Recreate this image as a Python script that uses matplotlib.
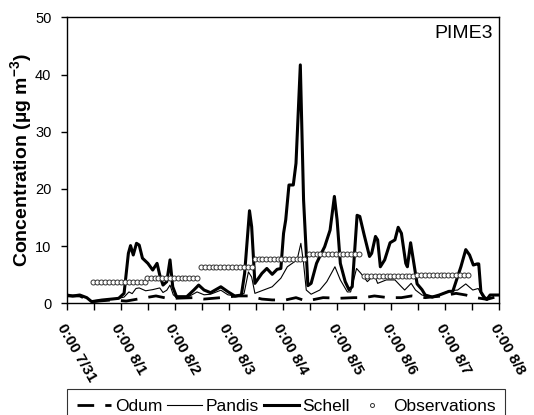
import numpy as np
import matplotlib
matplotlib.use("Agg")
import matplotlib.pyplot as plt
from matplotlib.transforms import ScaledTranslation

plt.rcParams['font.family'] = ['Liberation Sans', 'DejaVu Sans']
plt.rcParams['mathtext.fontset'] = 'custom'
plt.rcParams['mathtext.bf'] = 'Liberation Sans:bold'
plt.rcParams['mathtext.rm'] = 'Liberation Sans'

# time in days since 0:00 7/31
schell_t = [0.00, 0.11, 0.24, 0.37, 0.46, 0.65, 0.84, 0.96, 1.06, 1.14, 1.18, 1.23, 1.29, 1.34,
            1.40, 1.50, 1.59, 1.67, 1.72, 1.78, 1.85, 1.91, 1.96, 2.03, 2.22, 2.35, 2.44, 2.54,
            2.66, 2.85, 2.98, 3.11, 3.23, 3.29, 3.38, 3.42, 3.48, 3.61, 3.70, 3.80, 3.89, 3.96,
            4.01, 4.05, 4.11, 4.19, 4.24, 4.32, 4.38, 4.46, 4.52, 4.62, 4.68, 4.77, 4.87, 4.95,
            5.00, 5.06, 5.15, 5.22, 5.28, 5.37, 5.42, 5.50, 5.60, 5.64, 5.71, 5.75, 5.80, 5.88,
            5.98, 6.07, 6.13, 6.19, 6.27, 6.30, 6.36, 6.41, 6.48, 6.57, 6.63, 6.76, 6.89, 7.07,
            7.14, 7.29, 7.38, 7.45, 7.52, 7.59, 7.62, 7.66, 7.72, 7.77, 7.83, 8.00]
schell_v = [1.46, 1.28, 1.46, 1.0, 0.3, 0.58, 0.76, 0.88, 1.75, 8.75, 10.1, 8.46, 10.5, 10.2,
            7.9, 7.0, 5.83, 7.0, 4.96, 3.2, 3.8, 7.6, 2.9, 1.17, 1.17, 2.33, 3.2, 2.33,
            1.87, 2.9, 2.04, 1.28, 1.46, 5.25, 16.2, 13.4, 3.5, 5.25, 6.1, 5.08, 5.95, 6.1,
            12.25, 14.6, 20.7, 20.7, 24.5, 41.7, 18.1, 3.1, 3.5, 7.0, 8.2, 9.9, 12.8, 18.7,
            14.6, 7.0, 3.8, 2.4, 2.9, 15.4, 15.2, 12.0, 8.2, 8.75, 11.7, 11.1, 6.4, 7.6,
            10.6, 11.1, 13.3, 12.25, 7.0, 6.4, 10.6, 7.6, 3.4, 2.4, 1.46, 1.1, 1.46, 2.1,
            2.1, 6.4, 9.4, 8.46, 6.7, 6.9, 6.9, 2.0, 1.1, 0.7, 1.46, 1.46]

pandis_t = [0.00, 0.11, 0.24, 0.37, 0.46, 0.65, 0.84, 0.96, 1.06, 1.15, 1.21, 1.28, 1.34, 1.46,
            1.59, 1.72, 1.78, 1.85, 1.91, 1.97, 2.03, 2.22, 2.41, 2.54, 2.66, 2.85, 2.98, 3.17,
            3.28, 3.36, 3.42, 3.48, 3.64, 3.80, 3.96, 4.08, 4.17, 4.26, 4.33, 4.38, 4.43, 4.52,
            4.68, 4.81, 4.96, 5.06, 5.19, 5.25, 5.36, 5.44, 5.56, 5.69, 5.75, 5.91, 6.07, 6.19,
            6.25, 6.37, 6.45, 6.57, 6.76, 7.07, 7.23, 7.38, 7.51, 7.61, 7.70, 7.77, 7.83, 8.00]
pandis_v = [1.46, 1.28, 1.46, 1.0, 0.3, 0.58, 0.76, 0.88, 1.1, 2.0, 1.7, 2.6, 2.7, 2.2,
            2.4, 2.7, 1.9, 2.3, 3.2, 1.5, 1.0, 1.0, 2.0, 1.5, 1.6, 2.3, 1.5, 1.2,
            1.75, 5.5, 4.6, 1.75, 2.33, 2.9, 4.4, 6.4, 7.0, 7.6, 10.5, 7.0, 2.33, 1.6,
            2.33, 3.8, 6.4, 4.1, 2.0, 2.0, 6.1, 5.25, 3.8, 5.0, 3.5, 4.1, 4.1, 2.9,
            2.33, 3.5, 2.33, 1.46, 1.0, 2.2, 2.33, 3.4, 2.33, 2.6, 1.0, 0.7, 1.46, 1.46]

odum_t = [0.00, 0.24, 0.46, 0.84, 1.10, 1.40, 1.65, 1.90, 2.03, 2.35, 2.54, 2.85, 3.17, 3.36,
          3.61, 3.80, 4.05, 4.24, 4.43, 4.74, 5.06, 5.31, 5.50, 5.69, 5.94, 6.19, 6.38, 6.63,
          6.95, 7.20, 7.38, 7.57, 7.77, 8.00]
odum_v = [1.3, 1.3, 0.3, 0.6, 0.4, 0.9, 1.3, 0.8, 0.9, 1.0, 0.75, 1.0, 1.3, 1.3,
          0.75, 0.6, 0.6, 1.0, 0.4, 1.0, 0.9, 1.0, 1.0, 1.3, 1.0, 1.0, 1.3, 1.0,
          1.3, 1.75, 1.46, 1.0, 0.7, 1.3]

# observations: constant values over each sampling period
obs_start = [0.49, 1.48, 2.48, 3.48, 4.48, 5.49, 6.48]
obs_end = [1.44, 2.41, 3.42, 4.39, 5.40, 6.41, 7.42]
obs_val = [3.7, 4.5, 6.4, 7.75, 8.6, 4.7, 4.9]
obs_n = 14

tick_labels = ['0:00 7/31', '0:00 8/1', '0:00 8/2', '0:00 8/3', '0:00 8/4',
               '0:00 8/5', '0:00 8/6', '0:00 8/7', '0:00 8/8']

fig = plt.figure(figsize=(5.34, 4.15), dpi=100)
ax = fig.add_axes([0.125, 0.269, 0.81, 0.689])

ax.plot(odum_t, odum_v, color='black', lw=2.0, dashes=(6, 4), label='Odum')
ax.plot(pandis_t, pandis_v, color='black', lw=0.8, label='Pandis')
ax.plot(schell_t, schell_v, color='black', lw=2.2, label='Schell')

obs_t = np.concatenate([np.linspace(a, b, obs_n) for a, b in zip(obs_start, obs_end)])
obs_y = np.repeat(obs_val, obs_n)
ax.plot(obs_t, obs_y, ls='none', marker='o', ms=3.6, mfc='white', mec='#333333',
        mew=0.7, label='Observations')

ax.set_xlim(0, 8)
ax.set_ylim(0, 50)
ax.set_yticks(range(0, 51, 10))
ax.set_xticks(range(9))
ax.set_xticks(np.arange(0.5, 8, 1), minor=True)
ax.set_xticklabels(tick_labels, rotation=-60, ha='left', va='top',
                   rotation_mode='anchor', fontweight='bold', fontsize=11)
shift = ScaledTranslation(5 / 100, 0, fig.dpi_scale_trans)
for lbl in ax.get_xticklabels():
    lbl.set_transform(lbl.get_transform() + shift)
ax.tick_params(axis='x', which='both', direction='out', length=5, width=1, pad=8)
ax.tick_params(axis='y', direction='out', length=4, width=1, labelsize=10.5, pad=7)
for s in ax.spines.values():
    s.set_linewidth(1)

ax.set_ylabel('Concentration (µg m$^{\\mathbf{-3}}$)', fontsize=14, fontweight='bold', labelpad=0)
ax.text(0.985, 0.975, 'PIME3', transform=ax.transAxes, ha='right', va='top', fontsize=14)

leg = fig.legend(loc='upper center', bbox_to_anchor=(0.536, 1 - 389 / 415), ncol=4,
                 frameon=True, fancybox=False, edgecolor='black', fontsize=12.5,
                 handlelength=2.0, handletextpad=0.2, columnspacing=0.3,
                 borderpad=0.55, borderaxespad=0, markerscale=0.8)
leg.get_frame().set_linewidth(0.8)

fig.savefig('out.png', dpi=100)
